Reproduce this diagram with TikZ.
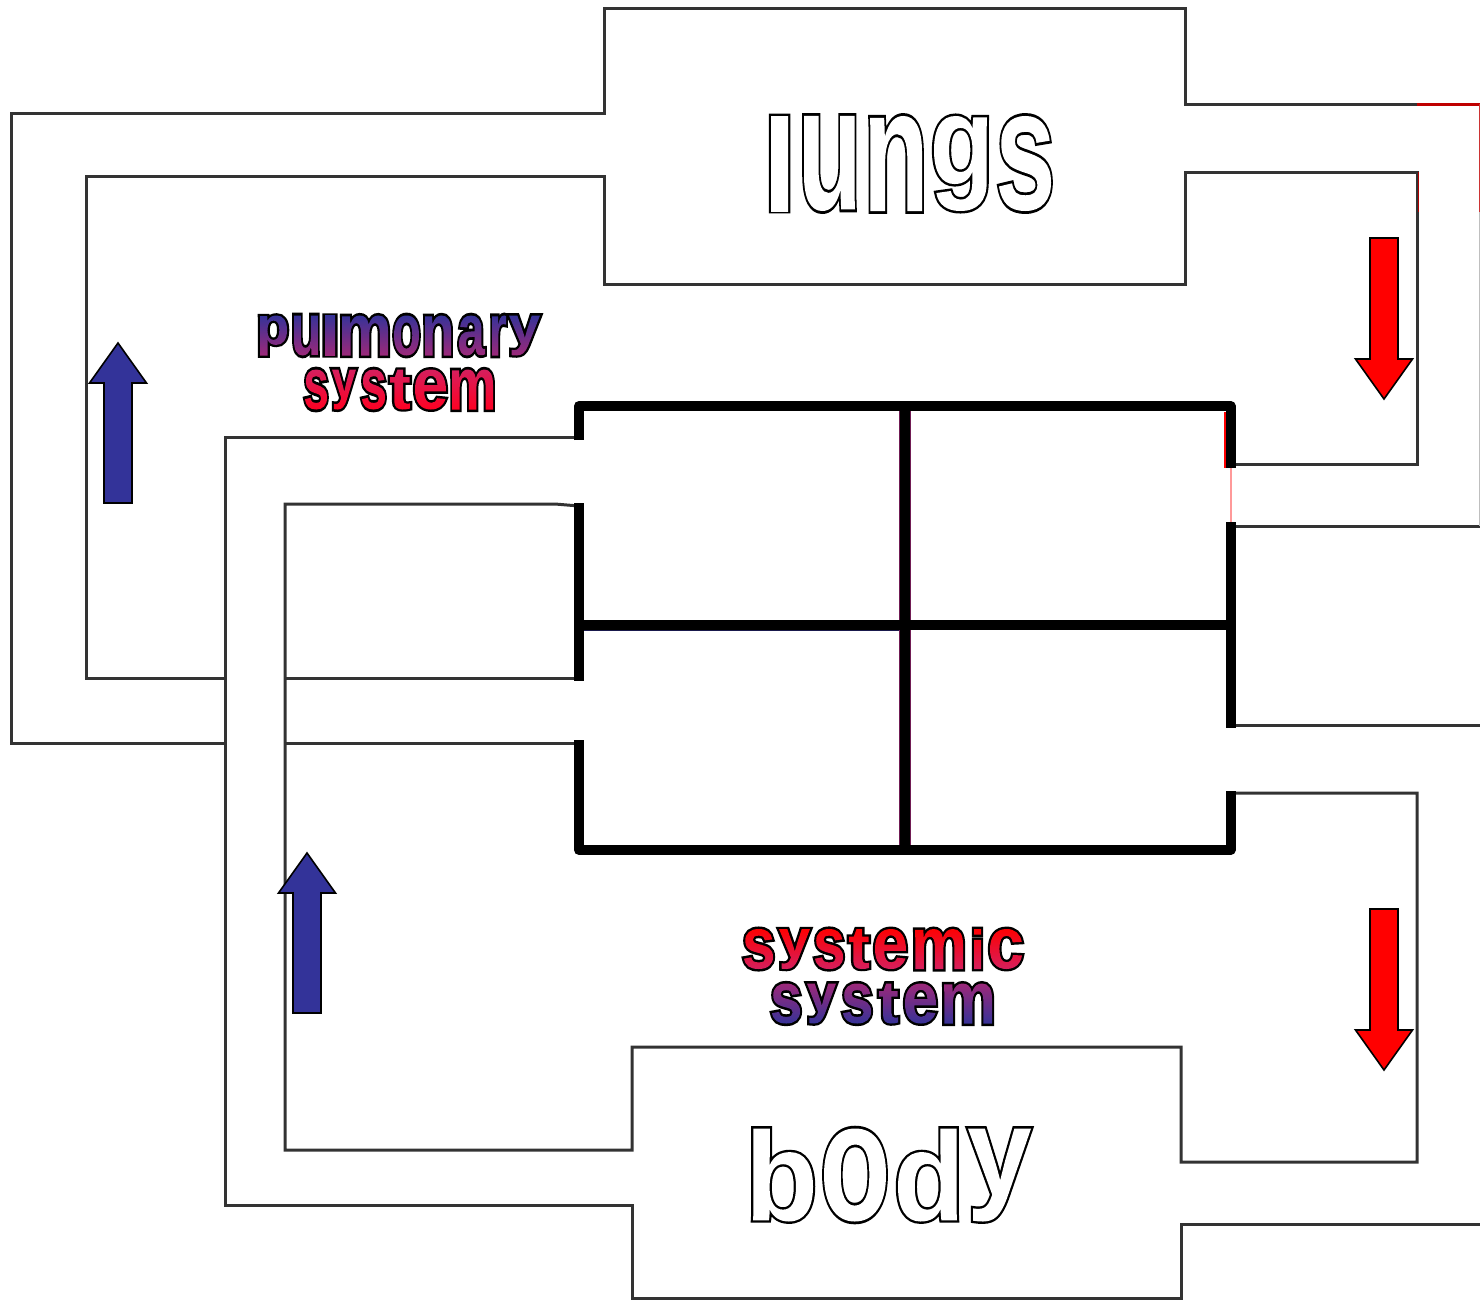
\documentclass[tikz,border=0pt]{standalone}
\usepackage{fontspec}
\usepackage{graphicx}
\setmainfont{Liberation Sans}
\definecolor{artblue}{HTML}{333399}
\definecolor{artpurple}{HTML}{A02878}
\definecolor{artcrimson}{HTML}{D42060}
\definecolor{artred}{HTML}{FF0020}
\definecolor{wallgray}{HTML}{333333}
\tikzset{
  duct/.style={draw=wallgray,line width=3pt,line join=miter},
  wall/.style={draw=black,line width=10pt,line join=round},
  upflow/.style={fill=artblue,draw=black,line width=1.6pt},
  downflow/.style={fill=red,draw=black,line width=1.6pt},
  art/.style={inner sep=0pt,outer sep=0pt,anchor=south west},
  artbig/.style={art,font=\bfseries\fontsize{100}{100}\selectfont},
  artsmall/.style={art,font=\bfseries\fontsize{45}{45}\selectfont},
}
% one letter stretched to a box, filled with a vertical gradient
\newsavebox\artbox
\newdimen\arttotal
\newcommand{\artletter}[5]{%
  \sbox\artbox{\kern-\XeTeXglyphbounds1 \XeTeXcharglyph`#3\relax #3\kern-\XeTeXglyphbounds3 \XeTeXcharglyph`#3\relax}%
  \arttotal=\dimexpr\ht\artbox+\dp\artbox\relax
  \pgfmathsetmacro\artw{4.6/sqrt((#1-4)/(\wd\artbox/1pt)*(#2-4)/(\arttotal/1pt))}%
  \resizebox{\dimexpr#1pt-4pt\relax}{\dimexpr#2pt-4pt\relax}{%
    \special{x:gsave}\special{pdf:code 5 Tr \artw\space w}%
    \raisebox{\dp\artbox}[\arttotal][0pt]{\usebox\artbox}%
    \tikz[overlay,x=1pt,y=1pt]\shade[top color=#4,bottom color=#5]
      (-\wd\artbox-1pt,-1pt) rectangle (1pt,\arttotal+1pt);%
    \special{x:grestore}}}
% a whole word: height, total width, colours, then x/width/letter
\newcommand{\artword}[5]{%
  \foreach \lx/\lw/\lc in {#5}{%
    \edef\artnext{\noexpand\artletter{\lw}{#1}{\lc}{#3}{#4}}%
    \rlap{\hspace*{\lx pt}\hspace*{2pt}\raisebox{2pt}{\artnext}}}%
  \hspace*{#2pt}}

\begin{document}
\begin{tikzpicture}[x=1pt,y=-1pt]
    \useasboundingbox (0,0) rectangle (1480,1299);
    % pulmonary loop
    \draw[duct] (225,743)--(11,743)--(11,113)--(604,113)--(604,8)--(1185,8)--(1185,104)--(1480,104);
    \draw[duct] (225,678)--(86,678)--(86,176)--(604,176)--(604,284)--(1185,284)--(1185,172)--(1417,172)--(1417,464)--(1231,464);
    \draw[duct] (285,678)--(579,678);
    \draw[duct] (285,743)--(579,743);
    % systemic loop
    \draw[duct] (579,437)--(225,437)--(225,1205)--(632,1205)--(632,1298)--(1181,1298)--(1181,1224)--(1480,1224);
    \draw[duct] (579,506)--(555,504)--(285,504)--(285,1150)--(632,1150)--(632,1047)--(1181,1047)--(1181,1162)--(1417,1162)--(1417,793)--(1231,793);
    \draw[duct] (1231,526)--(1480,526);
    \draw[duct] (1231,725)--(1480,725);
    % stray colour along the walls
    \draw[red!40,line width=1.2pt] (1231,468)--(1231,522);
    \draw[red,line width=1.5pt] (1225,412)--(1225,468);
    \draw[red!75!black,line width=3pt] (1417,104)--(1480,104);
    \draw[red!70!black,line width=1pt] (1418.5,172)--(1418.5,212);
    \draw[red!60!gray,line width=1.2pt] (1479.4,104)--(1479.4,212);
    \draw[gray!50,line width=1.2pt] (1479.4,212)--(1479.4,526);
    \draw[artblue!50!black,line width=11pt] (584,625)--(899,625);
    \draw[artpurple!70!black,line width=11.5pt] (905,411)--(905,845);
    % heart walls
    \draw[wall] (579,440)--(579,406)--(1230.5,406)--(1230.5,468);
    \draw[wall] (579,503)--(579,681);
    \draw[wall] (579,740)--(579,850)--(1230.5,850)--(1230.5,791);
    \draw[wall] (1230.5,522)--(1230.5,728);
    \draw[wall] (579,625)--(1230.5,625);
    \draw[wall] (905,406)--(905,850);
    % flow arrows
    \foreach \ax/\ay in {118/343,307/853}
      \filldraw[upflow] (\ax,\ay)--(\ax+28.5,\ay+40)--(\ax+14,\ay+40)--(\ax+14,\ay+160)--(\ax-14,\ay+160)--(\ax-14,\ay+40)--(\ax-28.5,\ay+40)--cycle;
    \foreach \ax/\ay in {1384/399,1384/1070}
      \filldraw[downflow] (\ax,\ay)--(\ax+28.5,\ay-40)--(\ax+14,\ay-40)--(\ax+14,\ay-161)--(\ax-14,\ay-161)--(\ax-14,\ay-40)--(\ax-28.5,\ay-40)--cycle;
    % labels
    \node[artbig] (lungs) at (769,213)
      {\artword{99}{284}{white}{white}{0/21/l,33/55/u,99/56/n,163/57/g,228/56/s}};
    \node[artbig] (body) at (751,1223.5)
      {\artword{97}{282}{white}{white}{0/64/b,71/66/o,145/63/d,215/67/y}};
    \node[artsmall] (pulmonary) at (258,357.5)
      {\artword{44}{284}{artblue}{artpurple}{0/31/p,34/28/u,65/14/l,82/50/m,134/29/o,165/30/n,199/30/a,232/18/r,249/35/y}};
    \node[artsmall] (pulmonarysystem) at (303,411.5)
      {\artword{44}{192}{artcrimson}{artred}{0/26/s,27/28/y,57/27/s,85/24/t,110/35/e,147/45/m}};
    \node[artsmall] (systemic) at (742,971)
      {\artword{44}{282}{red}{artcrimson}{0/33/s,35/35/y,71/32/s,105/24/t,131/35/e,171/52/m,230/11/i,246/36/c}};
    \node[artsmall] (systemicsystem) at (770,1025.5)
      {\artword{44}{224}{artpurple}{artblue}{0/32/s,35/33/y,71/32/s,107/23/t,133/35/e,172/52/m}};
  \end{tikzpicture}
\end{document}
